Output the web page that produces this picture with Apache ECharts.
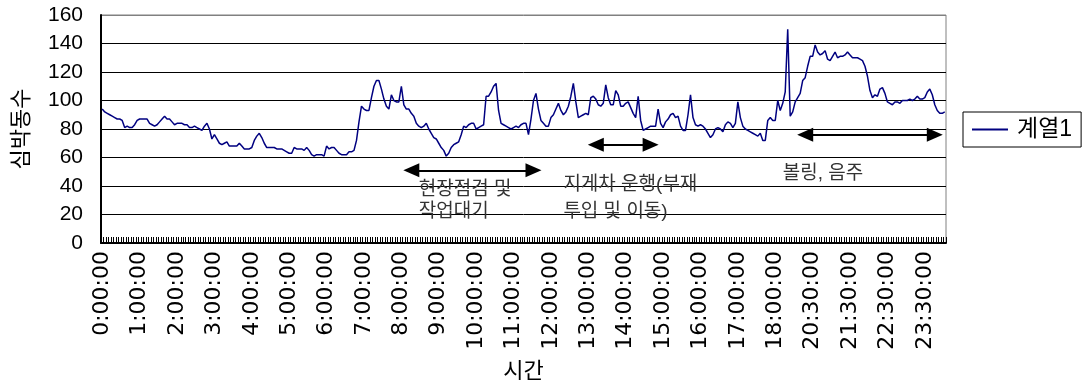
<!DOCTYPE html>
<html>
<head>
<meta charset="utf-8">
<script src="https://cdn.jsdelivr.net/npm/echarts@6/dist/echarts.min.js"></script>
<style>
  html, body { margin: 0; padding: 0; background: #fff; }
  #chart { width: 1086px; height: 387px; }
</style>
</head>
<body>
<div id="chart"></div>
<script>
// Sampling schedule of the recording: [start minute, step in minutes, sample count]
const timeSegments = [[0, 4, 270], [1080, 10, 15], [1230, 4, 53], [1439, 1, 1]];

// Heart rate (beats per minute), one array per labelled block of 15 samples
const hr00 = [94, 92, 91, 90, 89, 88, 87, 87, 86, 81, 82, 81, 81, 83, 86];
const hr01 = [87, 87, 87, 87, 84, 83, 82, 83, 85, 87, 89, 87, 87, 85, 83];
const hr02 = [84, 84, 84, 83, 83, 81, 81, 82, 81, 80, 79, 82, 84, 80, 73];
const hr03 = [76, 73, 70, 69, 70, 71, 68, 68, 68, 68, 70, 68, 66, 66, 66];
const hr04 = [67, 72, 75, 77, 74, 70, 67, 67, 67, 67, 66, 66, 66, 65, 64];
const hr05 = [63, 63, 67, 66, 66, 66, 65, 67, 65, 62, 61, 62, 62, 62, 61];
const hr06 = [68, 66, 67, 67, 65, 63, 62, 62, 62, 64, 64, 65, 72, 85, 96];
const hr07 = [94, 93, 93, 102, 110, 114, 114, 108, 101, 96, 94, 104, 100, 99, 99];
const hr08 = [110, 97, 94, 94, 91, 89, 84, 82, 81, 82, 84, 80, 77, 74, 73];
const hr09 = [70, 67, 65, 61, 63, 67, 69, 70, 71, 76, 82, 81, 83, 84, 84];
const hr10 = [80, 81, 82, 83, 103, 103, 106, 110, 112, 93, 84, 83, 82, 81, 80];
const hr11 = [81, 82, 81, 83, 84, 84, 76, 87, 100, 105, 94, 86, 84, 82, 82];
const hr12 = [88, 90, 94, 98, 93, 90, 92, 96, 103, 112, 99, 88, 89, 90, 91];
const hr13 = [90, 102, 103, 101, 97, 96, 98, 111, 102, 97, 97, 107, 104, 96, 96];
const hr14 = [98, 99, 95, 91, 88, 103, 86, 79, 80, 81, 82, 82, 82, 94, 84];
const hr15 = [81, 85, 87, 90, 91, 88, 89, 82, 79, 79, 90, 104, 88, 83, 82];
const hr16 = [83, 82, 80, 77, 74, 76, 80, 81, 80, 78, 83, 85, 84, 81, 84];
const hr17 = [99, 88, 82, 80, 79, 78, 77, 76, 75, 77, 72, 72, 86, 88, 86];
const hr18 = [86, 100, 93, 98, 106, 150, 89, 92, 99, 102, 105, 114, 116, 124, 131];
const hr2030 = [131, 139, 134, 132, 133, 135, 129, 128, 131, 134, 130, 131, 131, 132, 134];
const hr2130 = [132, 130, 130, 130, 129, 128, 124, 117, 107, 102, 104, 103, 108, 109, 105];
const hr2230 = [99, 98, 97, 99, 99, 98, 100, 100, 100, 101, 100, 101, 103, 101, 101];
const hr2330 = [102, 106, 108, 104, 97, 93, 91, 91, 92];

// Activity spans drawn as double arrows: [first sample, last sample, heart-rate level]
const activitySpans = [[124, 173, 51], [198, 220, 69], [282, 334, 76]];
// Activity notes: [text, sample index of left edge, heart-rate level of top edge, line height]
const activityNotes = [
  ['현장점검 및\n작업대기', 127, 45, 22],
  ['지게차 운행(부재\n투입 및 이동)', 185, 50.5, 27],
  ['볼링, 음주', 273, 55.5, 20]
];

const yTicks = [0, 20, 40, 60, 80, 100, 120, 140, 160];

const heartRate = [].concat(hr00, hr01, hr02, hr03, hr04, hr05, hr06, hr07, hr08,
  hr09, hr10, hr11, hr12, hr13, hr14, hr15, hr16, hr17, hr18, hr2030, hr2130, hr2230, hr2330);

function fmtTime(min) {
  const h = Math.floor(min / 60), m = min % 60;
  return h + ':' + String(m).padStart(2, '0') + ':00';
}
const categories = [];
timeSegments.forEach(([start, step, count]) => {
  for (let k = 0; k < count; k++) categories.push(fmtTime(start + k * step));
});

const FONT = '"Liberation Sans", "Noto Sans CJK KR", sans-serif';
const TICK_FONT = '"DejaVu Sans", sans-serif';
const chart = echarts.init(document.getElementById('chart'), null, { renderer: 'canvas' });

chart.setOption({
  animation: false,
  backgroundColor: '#fff',
  grid: {
    left: 101, right: 140, top: 15, bottom: 144,
    show: true, borderColor: '#808080', borderWidth: 1,
    outerBoundsMode: 'none'
  },
  legend: {
    left: 963, top: 112,
    orient: 'vertical',
    borderColor: '#000', borderWidth: 1,
    padding: [6, 9, 6, 9],
    icon: 'rect',
    itemWidth: 36, itemHeight: 2,
    textStyle: { fontFamily: FONT, fontSize: 23, color: '#000', padding: [0, 0, 0, 4], lineHeight: 22 },
    data: ['계열1']
  },
  xAxis: {
    type: 'category',
    data: categories,
    boundaryGap: true,
    name: '시간',
    nameLocation: 'middle',
    nameGap: 118,
    nameTextStyle: { fontFamily: FONT, fontSize: 22, color: '#000' },
    axisLine: { show: true, lineStyle: { color: '#000', width: 2 } },
    axisTick: { show: true, interval: 0, inside: true, length: 6, lineStyle: { color: '#000', width: 1 } },
    axisLabel: {
      interval: 14, rotate: 90, margin: 8,
      fontFamily: TICK_FONT, fontSize: 22, color: '#000'
    },
    splitLine: { show: false }
  },
  yAxis: {
    type: 'value',
    min: 0, max: 160, interval: 20,
    name: '심박동수',
    nameLocation: 'middle',
    nameGap: 68,
    nameTextStyle: { fontFamily: FONT, fontSize: 22, color: '#000' },
    axisLine: { show: true, lineStyle: { color: '#000', width: 2 } },
    axisTick: { show: false },
    axisLabel: { margin: 18, fontFamily: FONT, fontSize: 21, color: '#000' },
    splitLine: {
      show: true,
      lineStyle: { color: yTicks.map(v => (v === 160 ? '#808080' : '#000')), width: 1 }
    }
  },
  series: [{
    name: '계열1',
    type: 'line',
    data: heartRate,
    symbol: 'none',
    lineStyle: { color: '#000080', width: 1.5 },
    itemStyle: { color: '#000080' },
    markLine: {
      silent: true,
      symbol: ['triangle', 'triangle'],
      symbolSize: [14, 16],
      label: { show: false },
      lineStyle: { color: '#000', width: 2, type: 'solid' },
      emphasis: { disabled: true },
      data: activitySpans.map(([a, b, v]) => [{ coord: [a, v] }, { coord: [b, v] }])
    }
  }]
});

// Activity notes placed through the chart's own coordinate system
const noteGraphics = activityNotes.map(([text, idx, level, lh]) => {
  const [px, py] = chart.convertToPixel({ gridIndex: 0 }, [idx, level]);
  return {
    type: 'text',
    x: px, y: py,
    z: 1,
    style: {
      text: text,
      font: '19px ' + FONT,
      fill: '#333',
      lineHeight: lh,
      align: 'left',
      verticalAlign: 'top'
    }
  };
});
chart.setOption({ graphic: noteGraphics });
</script>
</body>
</html>
